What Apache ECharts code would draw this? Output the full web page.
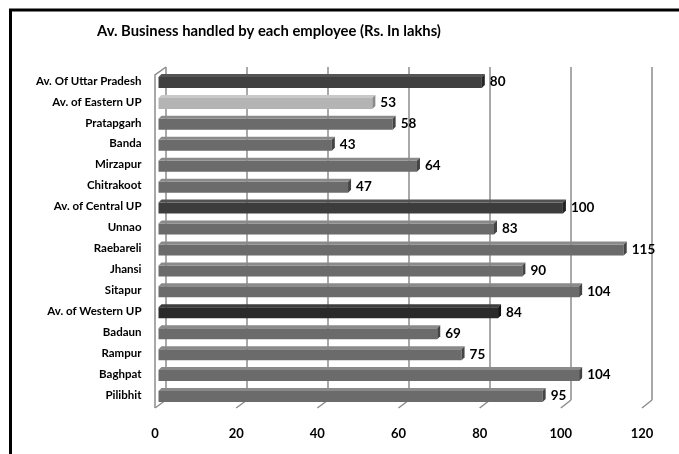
<!DOCTYPE html>
<html>
<head>
<meta charset="utf-8">
<script src="https://cdn.jsdelivr.net/npm/echarts@6/dist/echarts.min.js"></script>
<style>
  html, body { margin: 0; padding: 0; background: #fff; }
  #chart { width: 679px; height: 454px; }
</style>
</head>
<body>
<div id="chart"></div>
<script>
// ---- data ----
const titleText = 'Av. Business handled by each employee (Rs. In lakhs)';
const categories = [
  'Av. Of Uttar Pradesh', 'Av. of Eastern UP', 'Pratapgarh', 'Banda', 'Mirzapur',
  'Chitrakoot', 'Av. of Central UP', 'Unnao', 'Raebareli', 'Jhansi', 'Sitapur',
  'Av. of Western UP', 'Badaun', 'Rampur', 'Baghpat', 'Pilibhit'
];
const values = [80, 53, 58, 43, 64, 47, 100, 83, 115, 90, 104, 84, 69, 75, 104, 95];
const axisMin = 0, axisMax = 120, axisStep = 20;

// ---- styles ----
const FONT = 'Lato';
const shade = {
  'Av. Of Uttar Pradesh': ['#404040', '#555555', '#262626'],
  'Av. of Eastern UP':    ['#b4b4b4', '#c8c8c8', '#8a8a8a'],
  'Av. of Central UP':    ['#3c3c3c', '#525252', '#222222'],
  'Av. of Western UP':    ['#2a2a2a', '#3e3e3e', '#151515']
};
const defShade = ['#6b6b6b', '#8a8a8a', '#444444'];

const W = 679, H = 454;
const chart = echarts.init(document.getElementById('chart'), null, { renderer: 'canvas' });

const seriesData = values.map((v, i) => [v, i]);

const option = {
  animation: false,
  backgroundColor: '#fff',
  title: {
    text: titleText, left: 97, top: 24, padding: 0,
    textStyle: { fontFamily: FONT, fontWeight: 'bold', fontSize: 14.8, color: '#000' }
  },
  grid: [
    { left: 166, right: W - 652, top: 67, bottom: H - 400 },      // back wall
    { left: 160.5, right: W - 647, top: 70.5, height: 335 },      // bars
    { left: 155, right: W - 642, top: 67, bottom: H - 408 }       // front (labels)
  ],
  xAxis: [
    { gridIndex: 0, type: 'value', min: axisMin, max: axisMax, interval: axisStep,
      axisLine: { show: false }, axisTick: { show: false }, axisLabel: { show: false },
      splitLine: { show: true, lineStyle: { color: '#8c8c8c', width: 1.5 } } },
    { gridIndex: 1, type: 'value', min: axisMin, max: axisMax, interval: axisStep,
      axisLine: { show: false }, axisTick: { show: false }, axisLabel: { show: false },
      splitLine: { show: false } },
    { gridIndex: 2, type: 'value', min: axisMin, max: axisMax, interval: axisStep,
      axisLine: { show: false }, axisTick: { show: false }, splitLine: { show: false },
      axisLabel: { show: true, margin: 19, fontFamily: FONT, fontWeight: 'bold', fontSize: 13, color: '#000' } }
  ],
  yAxis: [
    { gridIndex: 0, type: 'value', show: false },
    { gridIndex: 1, type: 'category', data: categories, inverse: true,
      axisLine: { show: false }, axisTick: { show: false },
      axisLabel: { margin: 19, fontFamily: FONT, fontWeight: 'bold', fontSize: 11.5, color: '#000' } },
    { gridIndex: 2, type: 'value', show: false }
  ],
  series: [{
    type: 'custom',
    xAxisIndex: 1, yAxisIndex: 1,
    data: seriesData,
    encode: { x: 0, y: 1 },
    renderItem: function (params, api) {
      const v = api.value(0), i = api.value(1);
      const p0 = api.coord([axisMin, i]);
      const p1 = api.coord([v, i]);
      const c = shade[categories[i]] || defShade;
      const h = 14, d = 3;
      const yT = p0[1] - h / 2, yB = p0[1] + h / 2;
      const x0 = p0[0] - 2, x1 = p1[0];
      return {
        type: 'group',
        children: [
          { type: 'rect', shape: { x: x0, y: yT + d, width: x1 - d - x0, height: h - d },
            style: { fill: c[0] } },
          { type: 'polygon', shape: { points: [[x0, yT + d], [x0 + d, yT], [x1, yT], [x1 - d, yT + d]] },
            style: { fill: c[1] } },
          { type: 'polygon', shape: { points: [[x1 - d, yT + d], [x1, yT], [x1, yB - d], [x1 - d, yB]] },
            style: { fill: c[2] } },
          { type: 'text', style: { text: String(v), x: x1 + 5, y: p0[1] + 1,
              textAlign: 'left', textVerticalAlign: 'middle',
              font: 'bold 13.5px ' + FONT, fill: '#000' } }
        ]
      };
    }
  }]
};
chart.setOption(option);

// 3D wall/floor edges computed from axes
const gBack = { xAxisIndex: 0, yAxisIndex: 0 };
const gFront = { xAxisIndex: 2, yAxisIndex: 2 };
const floorBackY = 400, floorFrontY = 408;
const lines = [];
const gridColor = '#8c8c8c';
for (let t = axisMin; t <= axisMax; t += axisStep) {
  const xb = chart.convertToPixel(gBack, [t, 0])[0];
  const xf = chart.convertToPixel(gFront, [t, 0])[0];
  lines.push({ type: 'line', shape: { x1: xb, y1: floorBackY, x2: xf, y2: floorFrontY },
    style: { stroke: gridColor, lineWidth: 1.5 } });
}
const xb0 = chart.convertToPixel(gBack, [axisMin, 0])[0];
const xf0 = chart.convertToPixel(gFront, [axisMin, 0])[0];
lines.push({ type: 'polyline', shape: { points: [[xb0, 67], [xf0, 75], [xf0, floorFrontY]] },
  style: { stroke: gridColor, lineWidth: 1.5, fill: null } });
lines.push({ type: 'rect', shape: { x: 10.5, y: 10, width: 800, height: 600 },
  style: { stroke: '#000', lineWidth: 3, fill: null }, z: 100 });
chart.setOption({ graphic: lines.map(l => Object.assign({ silent: true }, l)) });
</script>
</body>
</html>
